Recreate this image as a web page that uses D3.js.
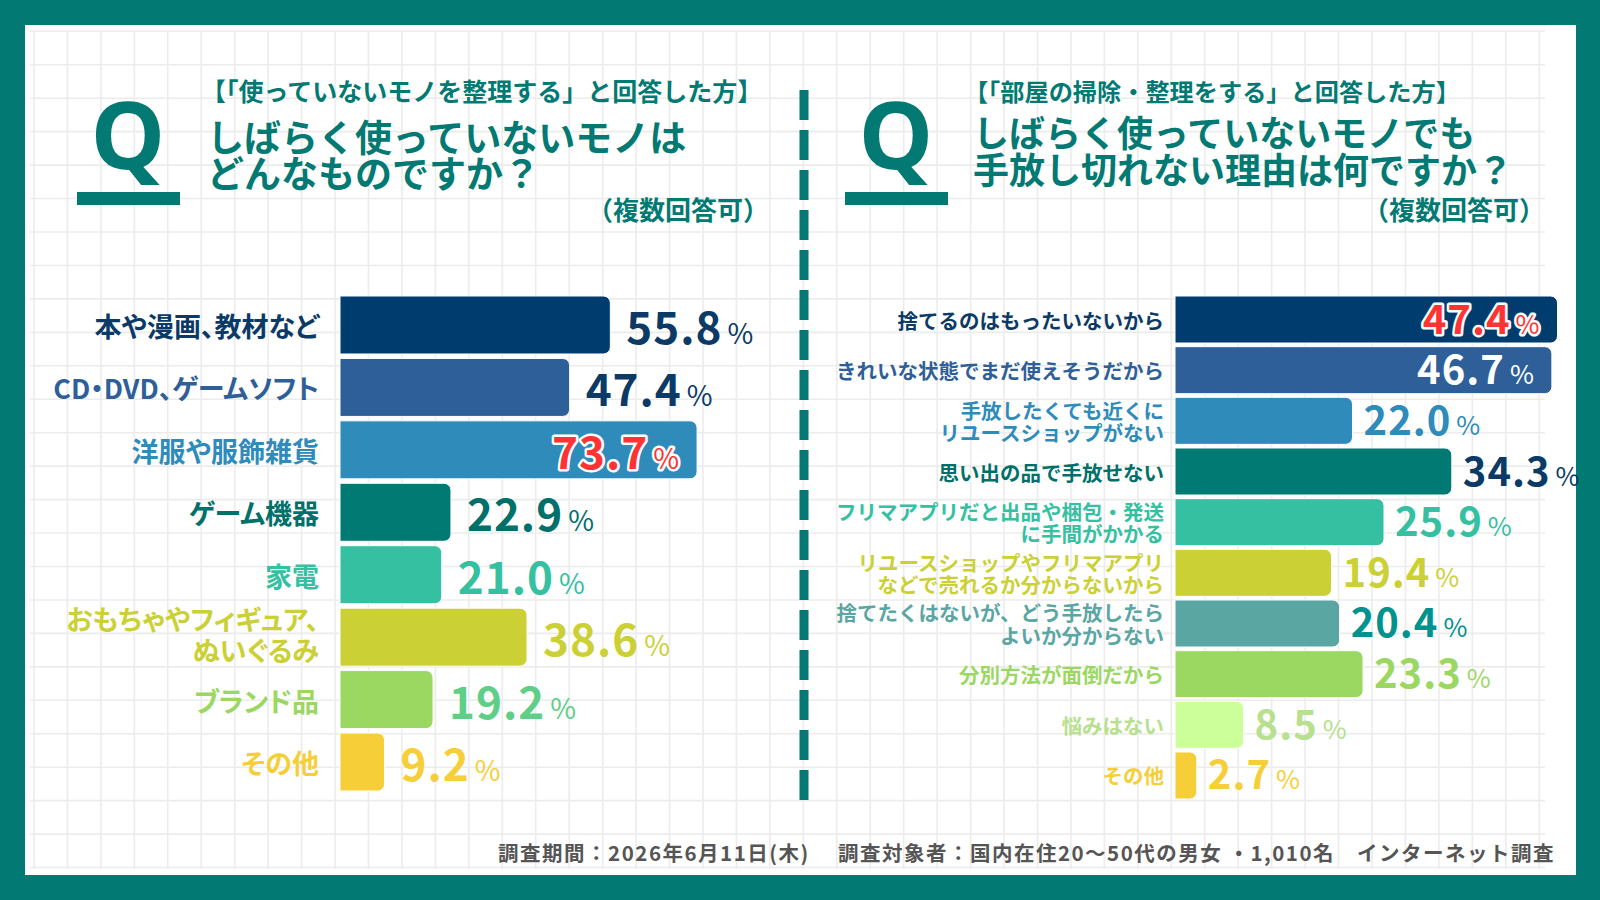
<!DOCTYPE html>
<html>
<head>
<meta charset="utf-8">
<script src="https://d3js.org/d3.v7.min.js"></script>
<style>
  body { margin: 0; background: #fff; }
  svg { display: block; font-family: "Noto Sans CJK JP", "Noto Sans", sans-serif; font-weight: 700; }
  .palt { font-feature-settings: "palt"; }
</style>
</head>
<body>
<svg width="1600" height="900"></svg>
<script>
  // left question: which unused things
  const leftLabels = [
    ["本や漫画、教材など"],
    ["CD・DVD、ゲームソフト"],
    ["洋服や服飾雑貨"],
    ["ゲーム機器"],
    ["家電"],
    ["おもちゃやフィギュア、", "ぬいぐるみ"],
    ["ブランド品"],
    ["その他"]
  ];
  const leftValues = [55.8, 47.4, 73.7, 22.9, 21.0, 38.6, 19.2, 9.2];

  // right question: why they can't let go
  const rightLabels = [
    ["捨てるのはもったいないから"],
    ["きれいな状態でまだ使えそうだから"],
    ["手放したくても近くに", "リユースショップがない"],
    ["思い出の品で手放せない"],
    ["フリマアプリだと出品や梱包・発送", "に手間がかかる"],
    ["リユースショップやフリマアプリ", "などで売れるか分からないから"],
    ["捨てたくはないが、どう手放したら", "よいか分からない"],
    ["分別方法が面倒だから"],
    ["悩みはない"],
    ["その他"]
  ];
  const rightValues = [47.4, 46.7, 22.0, 34.3, 25.9, 19.4, 20.4, 23.3, 8.5, 2.7];

  const leftBarColors   = ["#003d6e", "#2f5f98", "#2e8bba", "#007a73", "#35c1a1", "#cbd135", "#9bd862", "#f6cf38"];
  const leftLabelColors = ["#0b3a66", "#2f5f98", "#2e8bba", "#00706a", "#35c1a1", "#cbd135", "#9bd862", "#f6cf38"];
  const leftValueColors = ["#0b3a66", "#0b3a66", "#ff3333", "#00706a", "#35c1a1", "#cbd135", "#5fce86", "#f6cf38"];

  const rightBarColors   = ["#003d6e", "#2f5f98", "#2e8bba", "#007a73", "#35c1a1", "#cbd135", "#5aa6a3", "#9bd862", "#ccff99", "#f6cf38"];
  const rightLabelColors = ["#0b3a66", "#2f5f98", "#2e8bba", "#00706a", "#35c1a1", "#cbd135", "#5aa6a3", "#9bd862", "#b7e08f", "#f6cf38"];
  const rightValueColors = ["#ff3333", "#ffffff", "#2e8bba", "#0b3a66", "#35c1a1", "#cbd135", "#00928f", "#9bd862", "#b7e08f", "#f6cf38"];

  const teal = "#027a73";
  const svg = d3.select("svg");

  // frame
  svg.append("rect").attr("width", 1600).attr("height", 900).attr("fill", teal);
  svg.append("rect").attr("x", 25).attr("y", 25).attr("width", 1551).attr("height", 850).attr("fill", "#fff");

  // grid paper
  const grid = svg.append("g").attr("stroke", "#ececec").attr("stroke-width", 1.6);
  d3.range(34, 1545, 33.45).forEach(x => {
    grid.append("line").attr("x1", x).attr("x2", x).attr("y1", 31).attr("y2", 869);
  });
  d3.range(31.3, 870, 33.45).forEach(y => {
    grid.append("line").attr("x1", 30).attr("x2", 1545).attr("y1", y).attr("y2", y);
  });

  // dashed divider
  svg.append("line")
    .attr("x1", 804).attr("x2", 804).attr("y1", 90).attr("y2", 800)
    .attr("stroke", teal).attr("stroke-width", 9)
    .attr("stroke-dasharray", "30 10");

  const fmt = d3.format(".1f");

  function barPath(x0, y, w, h, r) {
    r = Math.min(r, w / 2, h / 2);
    return `M${x0},${y}H${x0 + w - r}A${r},${r} 0 0 1 ${x0 + w},${y + r}` +
      `V${y + h - r}A${r},${r} 0 0 1 ${x0 + w - r},${y + h}H${x0}Z`;
  }

  function header(h) {
    const g = svg.append("g").attr("fill", teal);
    g.append("text").attr("x", h.qx).attr("y", 169)
      .attr("text-anchor", "middle")
      .style("font-family", "'Noto Sans', sans-serif")
      .style("font-size", "94px").text("Q");
    g.append("rect").attr("x", h.qx - 51).attr("y", 192).attr("width", 103).attr("height", 13);
    g.append("text").attr("x", h.subX).attr("y", 101)
      .style("font-size", h.subSize + "px").text(h.sub);
    h.title.forEach((t, i) => {
      g.append("text").attr("x", h.tx).attr("y", h.titleY[i])
        .style("font-size", h.titleSize + "px").text(t);
    });
    g.append("text").attr("x", h.noteX).attr("y", 220)
      .attr("text-anchor", "end").style("font-size", "26px").text("（複数回答可）");
  }

  function panel(p) {
    const x = d3.scaleLinear().domain([0, 100]).range(p.xRange);
    const y = d3.scaleBand().domain(d3.range(p.values.length))
      .range(p.yRange).paddingInner(p.pad).paddingOuter(0);
    const maxV = d3.max(p.values);
    const g = svg.append("g");

    g.selectAll("path.bar").data(p.values).join("path")
      .attr("class", "bar")
      .attr("d", (d, i) => barPath(x(0), y(i), x(d) - x(0), y.bandwidth(), 7))
      .attr("fill", (d, i) => p.barColors[i])
      .attr("stroke", "#fff").attr("stroke-width", 1);

    // category labels
    const lab = g.selectAll("text.lab").data(p.labels).join("text")
      .attr("class", "lab " + p.labelClass)
      .attr("text-anchor", "end")
      .attr("dominant-baseline", "central")
      .attr("fill", (d, i) => p.labelColors[i])
      .style("font-size", p.labelSize + "px");
    lab.each(function (lines, i) {
      const c = y(i) + y.bandwidth() / 2;
      const n = lines.length;
      d3.select(this).selectAll("tspan").data(lines).join("tspan")
        .attr("x", p.labelX)
        .attr("y", (l, j) => c + (j - (n - 1) / 2) * p.lineH + (n > 1 ? p.multiShift : 0))
        .text(l => l);
    });

    // values
    const val = g.selectAll("text.val").data(p.values).join("text")
      .attr("class", "val")
      .attr("y", (d, i) => y(i) + y.bandwidth() / 2 + p.valDy)
      .attr("x", d => d / maxV >= 0.9 ? x(d) - 18 : x(d) + p.valGap)
      .attr("text-anchor", d => d / maxV >= 0.9 ? "end" : "start")
      .attr("fill", (d, i) => p.valueColors[i])
      .attr("stroke", d => d === maxV ? "#fff" : "none")
      .attr("stroke-width", 5)
      .attr("paint-order", "stroke")
      .attr("stroke-linejoin", "round");
    val.append("tspan")
      .style("font-size", p.valSize + "px")
      .style("letter-spacing", "1px")
      .text(d => fmt(d));
    val.append("tspan")
      .attr("dx", 5)
      .style("font-size", p.pctSize + "px")
      .style("font-weight", 400)
      .text("%");
  }

  header({
    qx: 128, subX: 201, tx: 207, titleY: [152, 188], titleSize: 37, subSize: 25,
    sub: "【「使っていないモノを整理する」と回答した方】",
    title: ["しばらく使っていないモノは", "どんなものですか？"],
    noteX: 769
  });
  header({
    qx: 896, subX: 964, tx: 973, titleY: [147, 184], titleSize: 36, subSize: 24.2,
    sub: "【「部屋の掃除・整理をする」と回答した方】",
    title: ["しばらく使っていないモノでも", "手放し切れない理由は何ですか？"],
    noteX: 1545
  });

  panel({
    labels: leftLabels, values: leftValues, labelClass: "palt",
    barColors: leftBarColors, labelColors: leftLabelColors, valueColors: leftValueColors,
    xRange: [340, 824.5], yRange: [296, 791], pad: 0.071,
    labelX: 319, labelSize: 27, lineH: 31, multiShift: -4,
    valSize: 44, pctSize: 28, valDy: 19, valGap: 16
  });
  panel({
    labels: rightLabels, values: rightValues, labelClass: "",
    barColors: rightBarColors, labelColors: rightLabelColors, valueColors: rightValueColors,
    xRange: [1175, 1982], yRange: [296, 799], pad: 0.072,
    labelX: 1164, labelSize: 20.5, lineH: 22.5, multiShift: 0,
    valSize: 40, pctSize: 26, valDy: 14, valGap: 11
  });

  // footer
  svg.append("text")
    .attr("x", 1555).attr("y", 861).attr("text-anchor", "end")
    .attr("fill", "#555")
    .style("font-size", "20.5px")
    .style("letter-spacing", "1.5px")
    .text("調査期間：2026年6月11日(木)　 調査対象者：国内在住20～50代の男女 ・1,010名　インターネット調査");
</script>
</body>
</html>
